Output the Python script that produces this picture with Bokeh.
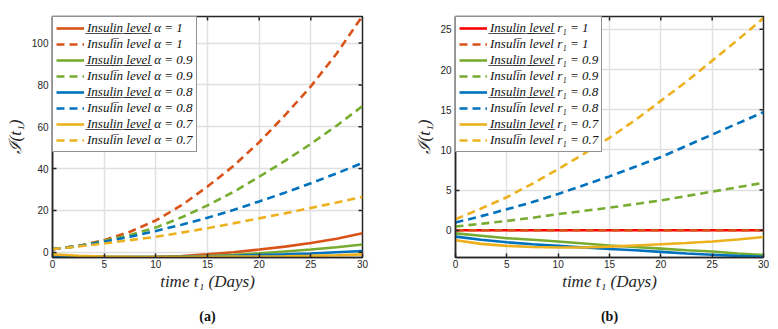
import math
from bokeh.plotting import figure
from bokeh.layouts import row
from bokeh.models import LinearAxis, Range1d, FixedTicker
from bokeh.embed import file_html
from bokeh.resources import INLINE

# ---------------- data ----------------
t_days = [0, 2.5, 5, 7.5, 10, 12.5, 15, 17.5, 20, 22.5, 25, 27.5, 30]

# panel (a): fractional order alpha
a_labels = ["1", "0.9", "0.8", "0.7"]
a_solid_10 = [-1.5, -2.0, -2.2, -2.3, -2.2, -1.8, -1.0, 0.0, 1.3, 2.7, 4.4, 6.5, 9.1]
a_solid_09 = [-1.5, -2.0, -2.2, -2.3, -2.3, -2.1, -1.8, -1.2, -0.5, 0.4, 1.3, 2.4, 3.7]
a_solid_08 = [-1.5, -2.0, -2.2, -2.3, -2.3, -2.2, -2.0, -1.7, -1.3, -1.0, -0.6, 0.0, 0.6]
a_solid_07 = [-1.0, -1.7, -2.0, -2.2, -2.3, -2.3, -2.2, -2.1, -2.0, -1.9, -1.7, -1.4, -1.0]
a_dash_10 = [1.5, 3.0, 5.8, 9.8, 15.2, 22.5, 31.4, 41.2, 52.6, 65.5, 79.3, 95.0, 113.0]
a_dash_09 = [1.5, 3.0, 5.5, 8.3, 11.8, 16.7, 22.4, 28.8, 36.1, 43.7, 51.8, 60.5, 69.9]
a_dash_08 = [1.5, 3.0, 5.0, 7.4, 10.2, 13.2, 16.5, 20.2, 24.3, 28.5, 33.0, 37.7, 42.7]
a_dash_07 = [1.5, 2.8, 4.2, 5.8, 7.4, 9.4, 11.5, 13.8, 16.2, 18.6, 21.2, 23.8, 26.4]

# panel (b): r1
b_labels = ["1", "0.9", "0.8", "0.7"]
b_solid_10 = [0, 0, 0, 0, 0, 0, 0, 0, 0, 0, 0, 0, 0]
b_solid_09 = [-0.4, -0.7, -1.0, -1.2, -1.4, -1.65, -1.9, -2.1, -2.3, -2.5, -2.65, -2.9, -3.1]
b_solid_08 = [-0.8, -1.2, -1.5, -1.75, -1.95, -2.15, -2.35, -2.5, -2.7, -2.9, -3.05, -3.2, -3.3]
b_solid_07 = [-1.25, -1.7, -1.95, -2.1, -2.15, -2.15, -2.05, -1.9, -1.75, -1.6, -1.4, -1.15, -0.85]
b_dash_10 = [0, 0, 0, 0, 0, 0, 0, 0, 0, 0, 0, 0, 0]
b_dash_09 = [0.45, 0.8, 1.15, 1.55, 2.0, 2.4, 2.8, 3.25, 3.7, 4.25, 4.8, 5.35, 5.9]
b_dash_08 = [0.95, 1.75, 2.6, 3.5, 4.5, 5.6, 6.7, 7.9, 9.1, 10.5, 11.9, 13.3, 14.7]
b_dash_07 = [1.37, 2.7, 4.1, 5.8, 7.6, 9.5, 11.5, 13.7, 16.1, 18.5, 21.1, 23.7, 26.4]

x_ticks = [0, 5, 10, 15, 20, 25, 30]
a_y_ticks = [0, 20, 40, 60, 80, 100]
b_y_ticks = [0, 5, 10, 15, 20, 25]

ORANGE = "#D95319"
GREEN = "#77AC30"
BLUE = "#0072BD"
YELLOW = "#EDB120"
RED = "#FF0000"
INK = "#262626"

SERIF = "Liberation Serif"
SANS = "Liberation Sans"


def underline(s):
    return "".join(c + "\u0332" for c in s)


LBL_SOLID = underline("Insulin level")
LBL_BAR = "Insuli\u0305n level"


def style_axis(ax):
    ax.axis_line_color = INK
    ax.axis_line_width = 1.5
    ax.major_tick_in = 4
    ax.major_tick_out = 0
    ax.major_tick_line_color = INK
    ax.major_tick_line_width = 1.5
    ax.minor_tick_line_color = None
    ax.major_label_text_font = SANS
    ax.major_label_text_font_size = "10px"
    ax.major_label_text_color = INK
    ax.major_label_standoff = 4


def make_panel(width, height, y_range, y_ticks, series, caption, left, top, right,
               ylab_standoff):
    x0, x1 = 0, 30
    p = figure(width=width, height=height, output_backend="svg", toolbar_location=None,
               x_range=Range1d(x0, x1), y_range=Range1d(*y_range),
               min_border_left=left, min_border_right=right, min_border_top=top,
               min_border_bottom=70)
    p.background_fill_color = "white"
    p.border_fill_color = "white"
    p.outline_line_color = INK
    p.outline_line_width = 1.5
    p.xgrid.grid_line_color = "#E0E0E0"
    p.ygrid.grid_line_color = "#E0E0E0"
    p.xgrid.grid_line_width = 1.5
    p.ygrid.grid_line_width = 1.5
    p.xaxis.ticker = FixedTicker(ticks=x_ticks)
    p.yaxis.ticker = FixedTicker(ticks=y_ticks)
    for ax in p.xaxis + p.yaxis:
        style_axis(ax)
    p.xaxis.major_label_standoff = 2
    p.xaxis.axis_label = "time t\u2081 (Days)"
    p.yaxis.axis_label = "\u2110(t\u2081)"
    for ax in (p.xaxis[0], p.yaxis[0]):
        ax.axis_label_text_font = SERIF
        ax.axis_label_text_font_style = "italic"
        ax.axis_label_text_font_size = "17px"
        ax.axis_label_text_color = INK
    p.xaxis.axis_label_standoff = 1
    p.yaxis.axis_label_standoff = ylab_standoff

    # caption "(a)" / "(b)" under the axis title
    cap = LinearAxis(ticker=FixedTicker(ticks=[]), axis_label=caption,
                     axis_line_color=None, major_tick_line_color=None,
                     minor_tick_line_color=None, major_label_standoff=0,
                     axis_label_standoff=15, axis_label_text_font=SERIF,
                     axis_label_text_font_style="bold",
                     axis_label_text_font_size="14px",
                     axis_label_text_color="#111111")
    p.add_layout(cap, "below")

    for ys, color, dash, label in series:
        p.line(t_days, ys, line_color=color, line_width=2.6, line_dash=dash,
               legend_label=label)

    # inward tick marks on the top and right edges (box on)
    p.scatter(x_ticks, [y_range[1]] * len(x_ticks), marker="dash", size=8,
              angle=math.pi / 2, line_color=INK, line_width=1.5)
    p.scatter([x1] * len(y_ticks), y_ticks, marker="dash", size=8,
              line_color=INK, line_width=1.5)

    lg = p.legend[0]
    lg.location = "top_left"
    lg.margin = 0
    lg.padding = 3
    lg.spacing = 0
    lg.label_height = 14
    lg.glyph_height = 14
    lg.glyph_width = 28
    lg.label_standoff = 3
    lg.label_text_font = SERIF
    lg.label_text_font_style = "italic"
    lg.label_text_font_size = "13px"
    lg.label_text_color = "#111111"
    lg.border_line_color = INK
    lg.border_line_width = 1.5
    lg.background_fill_color = "white"
    lg.background_fill_alpha = 1.0
    return p


DASH = "8 5"

series_a = [
    (a_solid_10, ORANGE, "solid", LBL_SOLID + " \u03b1 = " + a_labels[0]),
    (a_dash_10, ORANGE, DASH, LBL_BAR + " \u03b1 = " + a_labels[0]),
    (a_solid_09, GREEN, "solid", LBL_SOLID + " \u03b1 = " + a_labels[1]),
    (a_dash_09, GREEN, DASH, LBL_BAR + " \u03b1 = " + a_labels[1]),
    (a_solid_08, BLUE, "solid", LBL_SOLID + " \u03b1 = " + a_labels[2]),
    (a_dash_08, BLUE, DASH, LBL_BAR + " \u03b1 = " + a_labels[2]),
    (a_solid_07, YELLOW, "solid", LBL_SOLID + " \u03b1 = " + a_labels[3]),
    (a_dash_07, YELLOW, DASH, LBL_BAR + " \u03b1 = " + a_labels[3]),
]
series_b = [
    (b_solid_10, RED, "solid", LBL_SOLID + " r\u2081 = " + b_labels[0]),
    (b_dash_10, ORANGE, DASH, LBL_BAR + " r\u2081 = " + b_labels[0]),
    (b_solid_09, GREEN, "solid", LBL_SOLID + " r\u2081 = " + b_labels[1]),
    (b_dash_09, GREEN, DASH, LBL_BAR + " r\u2081 = " + b_labels[1]),
    (b_solid_08, BLUE, "solid", LBL_SOLID + " r\u2081 = " + b_labels[2]),
    (b_dash_08, BLUE, DASH, LBL_BAR + " r\u2081 = " + b_labels[2]),
    (b_solid_07, YELLOW, "solid", LBL_SOLID + " r\u2081 = " + b_labels[3]),
    (b_dash_07, YELLOW, DASH, LBL_BAR + " r\u2081 = " + b_labels[3]),
]

pa = make_panel(390, 327, (-2.5, 112.7), a_y_ticks, series_a, "(a)", 52, 12, 28, 4)
pb = make_panel(386, 327, (-3.4, 26.6), b_y_ticks, series_b, "(b)", 65, 16, 13, 3)

layout = row(pa, pb)
open("out.html", "w").write(file_html(layout, INLINE))
